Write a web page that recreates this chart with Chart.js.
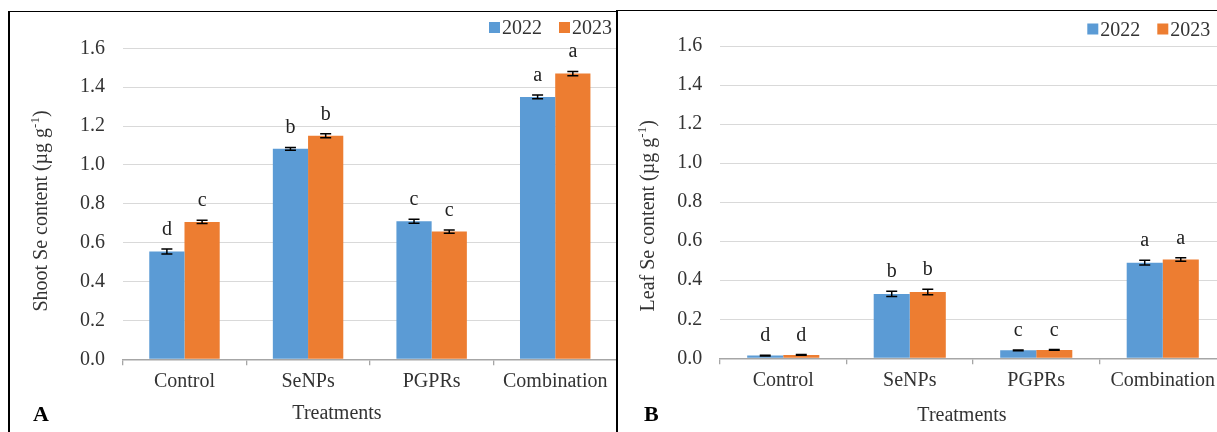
<!DOCTYPE html>
<html>
<head>
<meta charset="utf-8">
<script src="https://cdn.jsdelivr.net/npm/chart.js@4.4.0/dist/chart.umd.min.js"></script>
<style>
  body { margin: 0; background: #fff; width: 1217px; height: 432px; position: relative; overflow: hidden; }
  .panel { position: absolute; overflow: hidden; border-left: 2px solid #000; border-top: 1px solid #000; }
  #panelA { left: 8px; top: 11px; width: 606px; height: 421px; }
  #panelB { left: 616px; top: 10px; width: 599px; height: 422px; }
  canvas { display: block; }
</style>
</head>
<body>
<div class="panel" id="panelA"><canvas id="shootChart" width="607" height="420"></canvas></div>
<div class="panel" id="panelB"><canvas id="leafChart" width="608" height="421"></canvas></div>
<script>
const treatments = ['Control', 'SeNPs', 'PGPRs', 'Combination'];
const years = ['2022', '2023'];
const yMax = 1.6;
const yStep = 0.2;

const shoot2022 = [0.555, 1.083, 0.71, 1.35];
const shoot2023 = [0.707, 1.15, 0.657, 1.47];
const shootErr2022 = [0.013, 0.007, 0.01, 0.01];
const shootErr2023 = [0.008, 0.01, 0.008, 0.011];
const shootLetters2022 = ['d', 'b', 'c', 'a'];
const shootLetters2023 = ['c', 'b', 'c', 'a'];

const leaf2022 = [0.014, 0.33, 0.041, 0.49];
const leaf2023 = [0.017, 0.34, 0.043, 0.506];
const leafErr2022 = [0.002, 0.013, 0.002, 0.012];
const leafErr2023 = [0.002, 0.014, 0.002, 0.009];
const leafLetters2022 = ['d', 'b', 'c', 'a'];
const leafLetters2023 = ['d', 'b', 'c', 'a'];

const blue = '#5B9BD5';
const orange = '#ED7D31';
const serif = "'Liberation Serif', 'Times New Roman', serif";

Chart.defaults.font.family = serif;
Chart.defaults.font.size = 20;
Chart.defaults.color = '#333';

// error bars, letters, legend, titles
const extras = {
  id: 'extras',
  afterDatasetsDraw(chart, args, opts) {
    const ctx = chart.ctx;
    const y = chart.scales.y;
    ctx.save();
    chart.data.datasets.forEach((ds, i) => {
      const meta = chart.getDatasetMeta(i);
      meta.data.forEach((bar, j) => {
        const top = y.getPixelForValue(ds.data[j] + ds.errors[j]);
        const bot = y.getPixelForValue(ds.data[j] - ds.errors[j]);
        ctx.strokeStyle = '#000';
        ctx.lineWidth = 1.5;
        ctx.beginPath();
        ctx.moveTo(bar.x, top); ctx.lineTo(bar.x, bot);
        ctx.moveTo(bar.x - 5.5, top); ctx.lineTo(bar.x + 5.5, top);
        ctx.moveTo(bar.x - 5.5, bot); ctx.lineTo(bar.x + 5.5, bot);
        ctx.stroke();
        ctx.fillStyle = '#222';
        ctx.font = '20px ' + serif;
        ctx.textAlign = 'center';
        ctx.textBaseline = 'alphabetic';
        ctx.fillText(ds.letters[j], bar.x, top - 14);
      });
    });
    ctx.restore();
  },
  afterDraw(chart, args, opts) {
    const ctx = chart.ctx;
    ctx.save();
    ctx.textBaseline = 'alphabetic';
    ctx.font = '20px ' + serif;

    // legend
    let lx = opts.legendX;
    chart.data.datasets.forEach(ds => {
      ctx.fillStyle = ds.backgroundColor;
      ctx.fillRect(lx, opts.legendY - 11, 11, 11);
      ctx.fillStyle = '#333';
      ctx.textAlign = 'left';
      ctx.fillText(ds.label, lx + 13, opts.legendY + 1);
      lx += 70;
    });

    // x title
    ctx.textAlign = 'center';
    ctx.fillText('Treatments', opts.xTitleX, opts.xTitleY);

    // panel letter
    ctx.font = 'bold 22px ' + serif;
    ctx.fillStyle = '#000';
    ctx.textAlign = 'left';
    ctx.fillText(opts.panel, opts.panelX, opts.panelY);

    // y title with superscript
    ctx.fillStyle = '#333';
    ctx.translate(opts.yTitleX, opts.yTitleY);
    ctx.rotate(-Math.PI / 2);
    const main = opts.yTitle + ' (µg g';
    ctx.font = '20px ' + serif;
    const w1 = ctx.measureText(main).width;
    const w3 = ctx.measureText(')').width;
    ctx.font = '13px ' + serif;
    const w2 = ctx.measureText('-1').width;
    let tx = -(w1 + w2 + w3) / 2;
    ctx.textBaseline = 'middle';
    ctx.textAlign = 'left';
    ctx.font = '20px ' + serif;
    ctx.fillText(main, tx, 0);
    ctx.font = '13px ' + serif;
    ctx.fillText('-1', tx + w1, -6);
    ctx.font = '20px ' + serif;
    ctx.fillText(')', tx + w1 + w2, 0);
    ctx.restore();
  }
};

function makeChart(id, v2022, v2023, e2022, e2023, l2022, l2023, cfg) {
  const ctx = document.getElementById(id).getContext('2d');
  return new Chart(ctx, {
    type: 'bar',
    data: {
      labels: treatments,
      datasets: [
        { label: years[0], data: v2022, errors: e2022, letters: l2022, backgroundColor: blue,
          borderWidth: 0, barPercentage: 1, categoryPercentage: 0.57 },
        { label: years[1], data: v2023, errors: e2023, letters: l2023, backgroundColor: orange,
          borderWidth: 0, barPercentage: 1, categoryPercentage: 0.57 }
      ]
    },
    plugins: [extras],
    options: {
      responsive: false,
      animation: false,
      layout: { padding: { top: cfg.top, left: 0, right: 0, bottom: 0 } },
      plugins: {
        legend: { display: false },
        tooltip: { enabled: false },
        extras: cfg.extras
      },
      scales: {
        x: {
          offset: true,
          grid: { offset: true, drawOnChartArea: false, drawTicks: true, tickLength: 6, color: '#A6A6A6', lineWidth: 1.3 },
          border: { display: true, color: '#A6A6A6', width: 1.5 },
          ticks: { padding: 4, color: '#333', font: { size: 20 }, maxRotation: 0, autoSkip: false },
          afterFit: s => { s.height = cfg.xHeight; }
        },
        y: {
          min: 0,
          max: yMax,
          ticks: { stepSize: yStep, padding: 17.7, color: '#333', font: { size: 20 }, callback: v => v.toFixed(1) },
          grid: {
            drawTicks: false,
            lineWidth: 1,
            color: c => c.tick && c.tick.value === 0 ? 'rgba(0,0,0,0)' : '#D9D9D9'
          },
          border: { display: false },
          afterFit: s => { s.width = cfg.yWidth; }
        }
      }
    }
  });
}

makeChart('shootChart', shoot2022, shoot2023, shootErr2022, shootErr2023, shootLetters2022, shootLetters2023, {
  top: 36.3, xHeight: 72.7, yWidth: 112.7,
  extras: {
    legendX: 479, legendY: 21, xTitleX: 327, xTitleY: 407.3,
    panel: 'A', panelX: 23, panelY: 408.7,
    yTitle: 'Shoot Se content', yTitleX: 31.5, yTitleY: 199
  }
});

makeChart('leafChart', leaf2022, leaf2023, leafErr2022, leafErr2023, leafLetters2022, leafLetters2023, {
  top: 35, xHeight: 73.7, yWidth: 102,
  extras: {
    legendX: 469.3, legendY: 23.5, xTitleX: 344, xTitleY: 409.7,
    panel: 'B', panelX: 26, panelY: 409.7,
    yTitle: 'Leaf Se content', yTitleX: 30.7, yTitleY: 204.8
  }
});
</script>
</body>
</html>
